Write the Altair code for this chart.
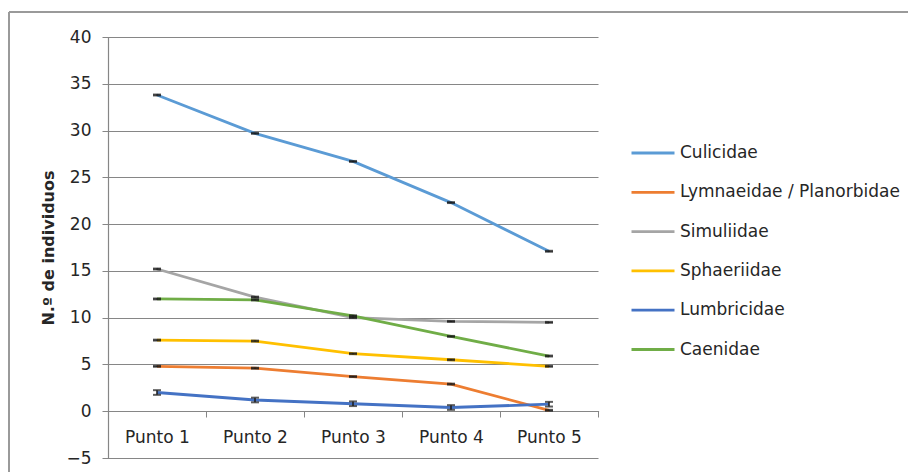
import altair as alt
import pandas as pd

puntos = ["Punto 1", "Punto 2", "Punto 3", "Punto 4", "Punto 5"]
series = ["Culicidae", "Lymnaeidae / Planorbidae", "Simuliidae", "Sphaeriidae", "Lumbricidae", "Caenidae"]
colors = ["#5B9BD5", "#ED7D31", "#A5A5A5", "#FFC000", "#4472C4", "#70AD47"]

culicidae = [33.8, 29.7, 26.7, 22.3, 17.1]
lymnaeidae = [4.8, 4.6, 3.7, 2.9, 0.1]
simuliidae = [15.2, 12.2, 10.0, 9.6, 9.5]
sphaeriidae = [7.6, 7.5, 6.15, 5.5, 4.8]
lumbricidae = [2.0, 1.2, 0.8, 0.4, 0.75]
caenidae = [12.0, 11.9, 10.2, 8.0, 5.9]

errors = [0.05, 0.05, 0.05, 0.05, 0.25, 0.05]

FONT = "DejaVu Sans"

values = [culicidae, lymnaeidae, simuliidae, sphaeriidae, lumbricidae, caenidae]
rows = []
for si, (name, vals) in enumerate(zip(series, values)):
    for p, v in zip(puntos, vals):
        rows.append({"serie": name, "punto": p, "n": v, "lo": v - errors[si], "hi": v + errors[si], "order": si})
df = pd.DataFrame(rows)

xenc = alt.X("punto:N", sort=puntos, bandPosition=0.5,
             scale=alt.Scale(type="band", domain=puntos, paddingInner=0, paddingOuter=0),
             axis=alt.Axis(title=None, offset=-47, tickBand="extent", labelAngle=0,
                           labelFont=FONT, labelFontSize=17, labelColor="#262626",
                           labelPadding=12, tickSize=6, tickColor="#868686",
                           domainColor="#868686", domainWidth=1.2, grid=False))
yscale = alt.Scale(domain=[-5, 40], nice=False, zero=False)

lines = alt.Chart(df).mark_line(strokeWidth=2.8).encode(
    x=xenc,
    y=alt.Y("n:Q", scale=yscale,
            axis=alt.Axis(title="N.º de individuos", values=list(range(-5, 41, 5)),
                          titleFont=FONT, titleFontSize=16, titleFontWeight="bold",
                          titleColor="#262626", titlePadding=9,
                          labelFont=FONT, labelFontSize=17, labelColor="#262626",
                          labelPadding=11, tickSize=6, tickColor="#868686",
                          domainColor="#868686", domainWidth=1.2,
                          gridColor="#868686", gridWidth=1.2)),
    color=alt.Color("serie:N", sort=series,
                    scale=alt.Scale(domain=series, range=colors),
                    legend=alt.Legend(title=None, orient="none", legendX=522, legendY=93,
                                      symbolType="stroke", symbolSize=1849, symbolStrokeWidth=2.8,
                                      labelFont=FONT, labelFontSize=17, labelColor="#262626",
                                      labelOffset=4, rowPadding=8.3, padding=0,
                                      labelLimit=400)),
    order=alt.Order("order:Q"),
    detail="serie:N",
)

bars = alt.Chart(df).mark_rule(color="#1a1a1a", strokeWidth=1.5).encode(
    x=alt.X("punto:N", sort=puntos, bandPosition=0.5), y="lo:Q", y2="hi:Q")
caps_lo = alt.Chart(df).mark_tick(color="#1a1a1a", size=8, thickness=2, orient="horizontal").encode(
    x=alt.X("punto:N", sort=puntos, bandPosition=0.5), y="lo:Q")
caps_hi = alt.Chart(df).mark_tick(color="#1a1a1a", size=8, thickness=2, orient="horizontal").encode(
    x=alt.X("punto:N", sort=puntos, bandPosition=0.5), y="hi:Q")

border_v = alt.Chart(df).mark_rule(color="#9a9a9a", strokeWidth=1.5).encode(
    x=alt.value(-99), y=alt.value(-25), y2=alt.value(460))
border_h = alt.Chart(df).mark_rule(color="#9a9a9a", strokeWidth=1.5).encode(
    x=alt.value(-99), x2=alt.value(830), y=alt.value(-25))

chart = alt.layer(border_v, border_h, lines, bars, caps_lo, caps_hi).properties(
    width=490, height=421,
    autosize=alt.AutoSizeParams(type="none"),
    padding={"left": 100, "top": 29, "right": 310, "bottom": 14},
).configure_view(stroke=None).configure_axis(domainCap="square")

chart.save("out.html", embed_options={"renderer": "svg", "actions": False})
